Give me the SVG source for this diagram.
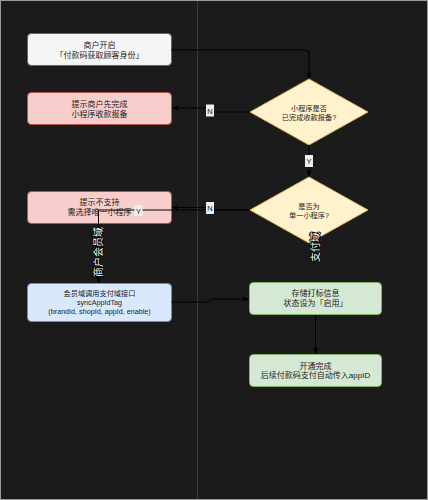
<svg xmlns="http://www.w3.org/2000/svg" width="428" height="500" viewBox="0 0 428 500">
<defs>
<marker id="arr" viewBox="0 0 10 10" refX="9" refY="5" markerWidth="7" markerHeight="7" markerUnits="userSpaceOnUse" orient="auto">
<path d="M0,1 L10,5 L0,9 L3,5 Z" fill="#000"/>
</marker>
<style>
text{font-family:"Liberation Sans","Noto Sans CJK SC",sans-serif;fill:#222;text-anchor:middle}
.n8{font-size:8px}
.n7{font-size:7.2px}
.edge{fill:none;stroke:#000;stroke-width:1}
.lbl rect{fill:#eeeeee;stroke:none}
.lbl text{font-size:7.5px;fill:#222}
.lane{font-size:10px;fill:#fff;stroke:#000;stroke-width:1.8;paint-order:stroke;stroke-linejoin:round}
.gray{fill:#f5f5f5;stroke:#666}
.red{fill:#f8cecc;stroke:#b85450}
.blue{fill:#dae8fc;stroke:#6c8ebf}
.green{fill:#d5e8d4;stroke:#82b366}
.yel{fill:#fff2cc;stroke:#d6b656}
</style>
</defs>
<rect x="0.5" y="0.5" width="427" height="499" fill="#1b1b1b" stroke="#9a9a9a"/>
<line x1="197.5" y1="1" x2="197.5" y2="499" stroke="#3c3c3c" stroke-width="1"/>

<g id="n1"><rect class="gray" x="27.5" y="33.5" width="144" height="32" rx="4"/>
<text class="n8" x="99.5" y="48">商户开启</text>
<text class="n8" x="99.5" y="57.5">「付款码获取顾客身份」</text></g>

<g id="n2"><rect class="red" x="27.5" y="92.5" width="144" height="32" rx="4"/>
<text class="n8" x="99.5" y="107">提示商户先完成</text>
<text class="n8" x="99.5" y="116.5">小程序收款报备</text></g>

<g id="n3"><rect class="red" x="27.5" y="191.5" width="144" height="32" rx="4"/>
<text class="n8" x="99.5" y="205">提示不支持</text>
<text class="n8" x="99.5" y="214.5">需选择唯一小程序</text></g>

<g id="n4"><rect class="blue" x="27.5" y="283.5" width="144" height="38" rx="4"/>
<text class="n7" x="99.5" y="295.5">会员域调用支付域接口</text>
<text class="n7" x="99.5" y="304.5">syncAppIdTag</text>
<text class="n7" x="99.5" y="313.5">(brandId, shopId, appId, enable)</text></g>

<g id="d1"><path class="yel" d="M309,79 L368,112 L309,145 L250,112 Z"/>
<text class="n7" x="309" y="110.5">小程序是否</text>
<text class="n7" x="309" y="119.5">已完成收款报备?</text></g>

<g id="d2"><path class="yel" d="M309,177 L368,210 L309,243 L250,210 Z"/>
<text class="n7" x="309" y="208.5">是否为</text>
<text class="n7" x="309" y="217.5">单一小程序?</text></g>

<g id="n5"><rect class="green" x="249.5" y="282.5" width="132" height="32" rx="4"/>
<text class="n8" x="315.5" y="296">存储打标信息</text>
<text class="n8" x="315.5" y="305.5">状态设为「启用」</text></g>

<g id="n6"><rect class="green" x="249.5" y="354.5" width="132" height="32" rx="4"/>
<text class="n8" x="315.5" y="368.5">开通完成</text>
<text class="n8" x="315.5" y="378">后续付款码支付自动传入appID</text></g>

<g id="connectors">
<path class="edge" d="M171.5,50 H305 Q309,50 309,54 V78" marker-end="url(#arr)"/>
<path class="edge" d="M250,112 H210 V108 H172.5" marker-end="url(#arr)"/>
<path class="edge" d="M309,145 V176" marker-end="url(#arr)"/>
<path class="edge" d="M250,210 H212 V207.5 H172.5" marker-end="url(#arr)"/>
<path class="edge" d="M250,210 H98.5 V282.5" marker-end="url(#arr)"/>
<path class="edge" d="M171.5,302 H208 Q211,302 211,299 H248.5" marker-end="url(#arr)"/>
<path class="edge" d="M315.5,315 V353.5" marker-end="url(#arr)"/>
<g class="lbl"><rect x="206" y="104.5" width="8" height="12"/><text x="210" y="113.5">N</text></g>
<g class="lbl"><rect x="206" y="202" width="8" height="12"/><text x="210" y="211">N</text></g>
<g class="lbl"><rect x="305" y="155" width="8" height="12"/><text x="309" y="164">Y</text></g>
<g class="lbl"><rect x="134.5" y="205" width="8" height="11"/><text x="138.5" y="213.5">Y</text></g>
</g>

<text class="lane" transform="translate(102,252) rotate(-90)">商户会员域</text>
<text class="lane" transform="translate(319,247) rotate(-90)">支付域</text>
</svg>
